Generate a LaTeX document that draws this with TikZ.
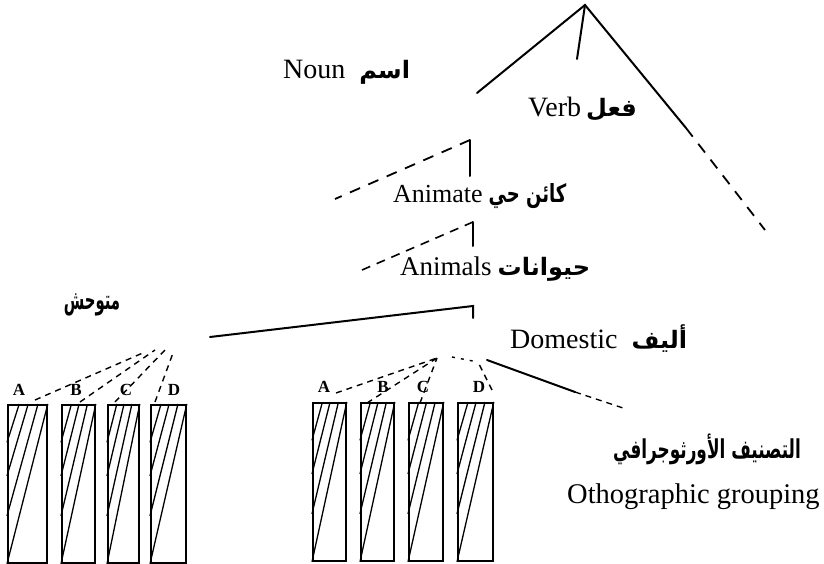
\documentclass[tikz,border=0pt]{standalone}
\usepackage{fontspec}
\setmainfont{Liberation Serif}
\newfontfamily\arabicfont[Script=Arabic]{DejaVu Sans}
\TeXXeTstate=1
\newcommand{\arf}[1][24]{\arabicfont\bfseries\fontsize{#1}{28}\selectfont}
\usetikzlibrary{calc}
\begin{document}
\begin{tikzpicture}[x=1pt,y=-1pt,
  lab/.style={inner sep=0pt, font=\fontsize{28}{32}\selectfont},
  letter/.style={inner sep=0pt, font=\fontsize{17}{19}\selectfont\bfseries},
  treeline/.style={line width=2pt, line cap=round},
  longdash/.style={line width=1.8pt, dash pattern=on 11pt off 9pt},
  fandash/.style={line width=1.4pt, dash pattern=on 6pt off 5pt},
  boxst/.style={draw, line width=1.8pt, inner sep=0pt, minimum height=158pt, anchor=north west},
  hatch/.style={line width=1.3pt}]
\useasboundingbox (0,0) rectangle (824,564);

% ---- tree coordinates ----
\coordinate (top) at (585,5);
\coordinate (nounEnd) at (477,93);
\coordinate (midEnd) at (577,59);
\coordinate (verbEnd) at (686,128);
\coordinate (verbDash) at (765,230);
\coordinate (anT) at (470,140);
\coordinate (anB) at (470,176);
\coordinate (anL) at (335,199);
\coordinate (aT) at (473,222);
\coordinate (aB) at (473,246);
\coordinate (aL) at (362,270);
\coordinate (dT) at (473,306);
\coordinate (dB) at (473,318);
\coordinate (dL) at (210,337);
\coordinate (rS) at (487,360);
\coordinate (rM) at (575,392);
\coordinate (rE) at (623,408);

\draw[treeline] (nounEnd) -- (top) -- (verbEnd);
\draw[treeline] (top) -- (midEnd);
\draw[longdash] (verbEnd) -- (verbDash);
\draw[treeline] (anB) -- (anT);
\draw[longdash] (anT) -- (anL);
\draw[treeline] (aB) -- (aT);
\draw[fandash, line width=1.6pt, dash pattern=on 9pt off 7pt] (aT) -- (aL);
\draw[treeline] (dB) -- (dT) -- (dL);
\draw[treeline] (rS) -- (rM);
\draw[fandash] (rM) -- (rE);

% ---- labels ----
\node[lab, anchor=base west] (noun) at (283,79) {Noun\hspace{14pt}{\arf\beginR اسم\endR}};
\node[lab, anchor=base west] (verb) at (528,117) {Verb\hspace{5pt}{\arf\beginR فعل\endR}};
\node[lab, anchor=base west, font=\fontsize{26}{30}\selectfont] (animate) at (393,202) {Animate\hspace{6pt}\scalebox{0.72}[1]{\arf[25]\beginR كائن حي\endR}};
\node[lab, anchor=base west, font=\fontsize{27}{30}\selectfont] (animals) at (400,275) {Animals\hspace{6pt}{\arf\beginR حيوانات\endR}};
\node[lab] (wild) at (92,305) {\scalebox{0.55}[1]{\arf[27]\beginR متوحش\endR}};
\node[lab, anchor=base west] (domestic) at (510,348) {Domestic\hspace{14pt}{\arf\beginR أليف\endR}};
\node[lab] (arOrth) at (707,449) {\scalebox{0.65}[1]{\arf[26]\beginR التصنيف الأورثوجرافي\endR}};
\node[lab, anchor=base west, font=\fontsize{28.5}{32}\selectfont] (orth) at (567,503) {Othographic grouping};

% ---- boxes ----
\foreach \n/\x/\w/\y in {LA/7/39/404, LB/61/33/404, LC/107/31/404, LD/150/35/404,
                         RA/312/33/402, RB/360/33/402, RC/408/34/402, RD/457/35/402}{
  \node[boxst, minimum width=\w pt] (\n) at (\x,\y) {};
  \foreach \f/\g in {0/1, 0.3/0.76, 0.55/0.52, 0.76/0.3}{
    \draw[hatch] ($(\n.south west)!\f!(\n.north west)$) -- ($(\n.north west)!\g!(\n.north east)$);
  }
}

% ---- box letters ----
\node[letter] (lA) at (19,390) {A};
\node[letter] (lB) at (76,390) {B};
\node[letter] (lC) at (126,390) {C};
\node[letter] (lD) at (174,390) {D};
\node[letter] (rA) at (324,387) {A};
\node[letter] (rB) at (383,387) {B};
\node[letter] (rC) at (423,387) {C};
\node[letter] (rD) at (479,387) {D};

% ---- fan connectors ----
\coordinate (lAs) at (35,400);  \coordinate (lAe) at (145,352);
\coordinate (lBs) at (80,402);  \coordinate (lBe) at (155,350);
\coordinate (lCs) at (115,402); \coordinate (lCe) at (165,350);
\coordinate (lDs) at (155,402); \coordinate (lDe) at (173,353);
\draw[fandash] (lAs) -- (lAe);
\draw[fandash] (lBs) -- (lBe);
\draw[fandash] (lCs) -- (lCe);
\draw[fandash] (lDs) -- (lDe);

\coordinate (rApex) at (437,358);
\coordinate (rAs) at (336,393);
\coordinate (rBs) at (367,403);
\coordinate (rCs) at (420,403);
\coordinate (rDs) at (492,390); \coordinate (rDe) at (478,362);
\coordinate (rDot) at (452,357);
\draw[fandash] (rAs) -- (rApex);
\draw[fandash] (rBs) -- (rApex);
\draw[fandash] (rCs) -- (rApex);
\draw[fandash] (rDs) -- (rDe);
\draw[fandash, dash pattern=on 3pt off 6pt] (rDot) -- (rDe);
\end{tikzpicture}
\end{document}
